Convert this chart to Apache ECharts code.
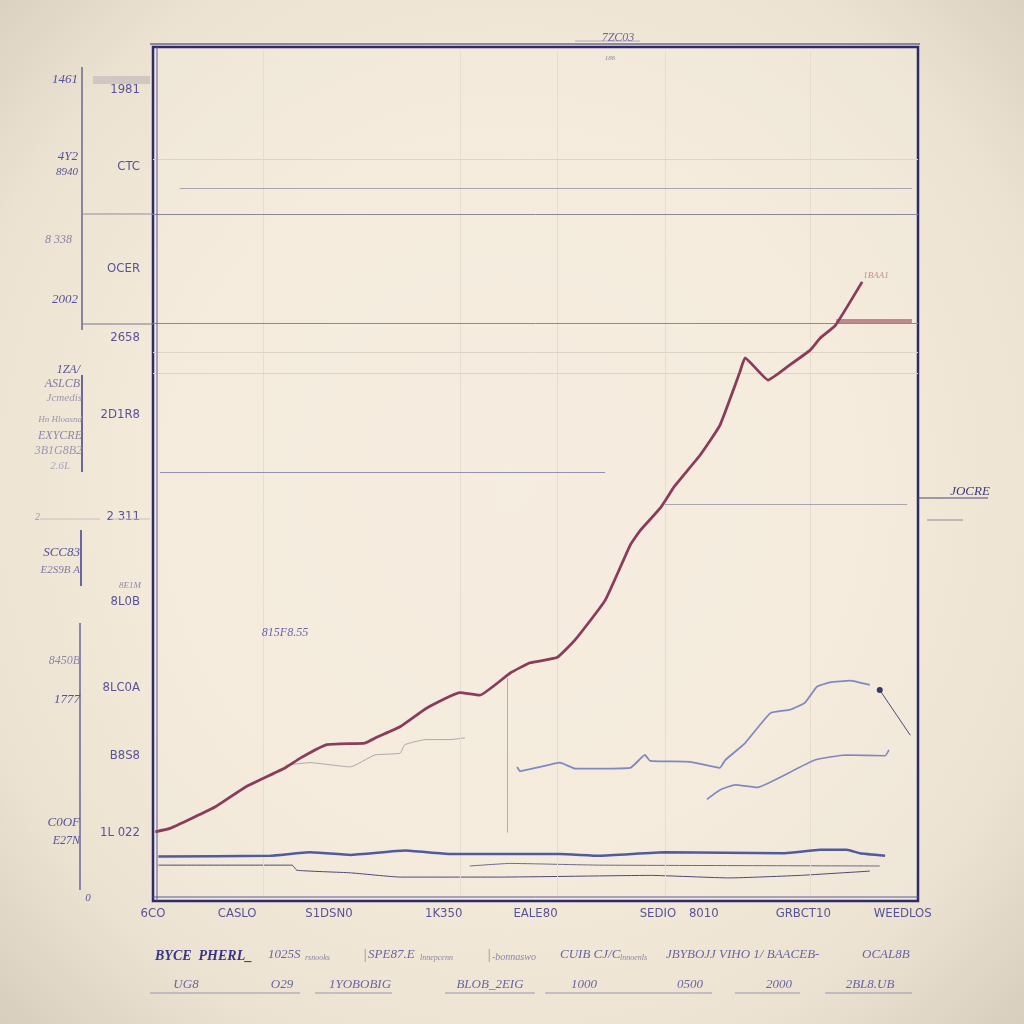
<!DOCTYPE html>
<html><head><meta charset="utf-8">
<style>
html,body{margin:0;padding:0;width:1024px;height:1024px;overflow:hidden;}
body{background: radial-gradient(ellipse at 50% 48%, #f5eddf 0%, #f3eada 50%, #ebe2d1 78%, #d8cebd 100%);}
#c{width:1024px;height:1024px;}
</style>
<script src="https://cdn.jsdelivr.net/npm/echarts@6/dist/echarts.min.js"></script>
</head><body><div id="c"></div><script>
// ---- data (x: 0-100, y: 0-100 value scale) ----
const xTickValues = [0, 11, 23, 38, 50, 66, 72, 85, 98];
const xTickLabels = ['6CO', 'CASLO', 'S1DSN0', '1K350', 'EALE80', 'SEDIO', '8010', 'GRBCT10', 'WEEDLOS'];
const yTickValues = [8, 17, 25, 35, 45, 57, 66, 74, 86, 95];
const yTickLabels = ['1L 022', 'B8S8', '8LC0A', '8L0B', '2 311', '2D1R8', '2658', 'OCER', 'CTC', '1981'];

const mainSeries = [[0.3,8.1],[2.2,8.5],[8.1,11.0],[12.0,13.3],[17.3,15.6],[19.2,16.7],[22.7,18.3],[27.7,18.5],[29.3,19.2],[32.3,20.4],[35.8,22.6],[40.1,24.4],[42.7,24.1],[46.7,26.7],[49.3,27.9],[52.8,28.5],[55.2,30.6],[59.1,35.2],[62.4,41.7],[63.7,43.4],[66.3,46.0],[68.2,48.6],[71.5,52.2],[74.1,55.7],[76.7,61.9],[77.4,63.6],[80.4,61.0],[83.3,62.8],[85.9,64.5],[87.2,65.9],[89.2,67.4],[92.7,72.5]];
const blueMid = [[47.6,15.7],[48.0,15.2],[50.6,15.7],[53.2,16.2],[55.2,15.5],[62.4,15.6],[64.3,17.1],[65.0,16.4],[70.2,16.3],[74.1,15.6],[74.8,16.5],[77.4,18.5],[80.7,22.0],[83.3,22.4],[85.2,23.2],[86.8,25.1],[88.5,25.6],[91.1,25.8],[93.7,25.3]];
const blueLow = [[72.4,11.9],[74.1,13.0],[76.1,13.6],[79.0,13.3],[82.0,14.5],[86.5,16.5],[90.5,17.1],[95.7,17.0],[96.2,17.7]];
const baseBlue = [[0.7,5.2],[15.3,5.3],[20.5,5.7],[25.8,5.4],[32.9,5.9],[38.8,5.5],[53.2,5.5],[58.4,5.3],[66.9,5.7],[82.6,5.6],[87.2,6.0],[90.7,6.0],[92.4,5.6],[95.7,5.3]];
const thinNavyA = [[0.7,4.2],[18.2,4.2],[18.8,3.6],[25.8,3.3],[32.3,2.8],[45.4,2.8],[65.0,3.0],[75.4,2.7],[84.6,3.0],[93.7,3.5]];
const thinNavyB = [[41.4,4.1],[46.7,4.4],[58.4,4.2],[95.0,4.1]];
const faintGray = [[17.3,15.9],[20.5,16.2],[25.8,15.7],[29.0,17.1],[32.3,17.3],[32.9,18.3],[35.6,18.9],[38.8,18.9],[40.8,19.1]];
const pointerLine = [[95.0,24.7],[99.0,19.4]];

// reference lines: [y, xStart, xEnd]
const refLinesDark = [[80.4,0,100],[67.6,0,100]];
const refLinesMid = [[83.5,3.5,99.2],[46.4,66.9,98.6]];
const refLinesBlue = [[50.2,0.9,59.1]];
const refLinesLight = [[86.8,0,100],[64.3,0,100],[61.8,0,100]];
const refBar = [[67.9,89.3,99.2]];
const vGridX = [14.4,40.1,52.8,66.9,85.9];
const vMarker = [[46.3,8.0,26.1]];

const NAVY = '#2d2b6b', LBL = '#57539a', FONT = 'Liberation Serif';
const AXFONT = '"Liberation Sans Narrow", "DejaVu Sans Condensed", sans-serif';

function hSeg(arr){ return arr.map(([y,a,b]) => [{coord:[a,y]},{coord:[b,y]}]); }
function lineSeries(data, color, width, z, opacity){
  return {type:'line', data, symbol:'none', smooth:0.12, z:z||3, silent:true,
    lineStyle:{color, width, opacity: opacity==null?1:opacity}};
}
const xMap = {}; xTickValues.forEach((v,i)=>xMap[v]=xTickLabels[i]);
const yMap = {}; yTickValues.forEach((v,i)=>yMap[v]=yTickLabels[i]);

// outer decorative texts: [text, x, y, size, color, align]
const outerTexts = [
 ['1461',78,80,13,LBL,'right'],['4Y2',78,157,13,LBL,'right'],['8940',78,172,11,LBL,'right'],
 ['8 338',72,240,12,'#8b86a8','right'],['2002',78,300,13,LBL,'right'],
 ['1ZA/',80,370,12,LBL,'right'],['ASLCB',80,384,12,'#7e7aa6','right'],['Jcmedis',82,398,11,'#9a96b0','right'],
 ['Hn Hloasnd',82,420,9,'#9a96b0','right'],['EXYCRE',82,436,12,'#8a86aa','right'],['3B1G8B2',82,451,12,'#9a96b0','right'],['2.6L',70,466,11,'#a8a4b8','right'],
 ['2',35,517,10,'#9a96b0','left'],['SCC83',80,553,13,LBL,'right'],['E2S9B A',80,570,11,'#7e7aa6','right'],
 ['8E1M',141,586,9,'#8e8aa8','right'],['8450B',80,661,12,'#8a86aa','right'],['1777',80,700,13,LBL,'right'],
 ['C0OF',80,823,13,LBL,'right'],['E27N',80,841,12,LBL,'right'],['0',88,898,11,LBL,'center'],
 ['7ZC03',618,38,12,'#6a66a0','center'],['186',610,58,7,'#8a86a0','center'],
 ['JOCRE',970,492,13,'#3e3a7a','center'],['1BAA1',876,276,9,'#c09090','center'],
 ['815F8.55',285,633,12,'#6a66a8','center']
];
// legend row 1 pieces
const legendRow1 = [
 ['BYCE  PHERL_',155,956,14,'#3a3488','bold'],['1025S',268,955,13,'#6a66a0','normal'],['rsnooks',305,958,8,'#8a86a8','normal'],
 ['|',363,955,14,'#8a86a8','normal'],['SPE87.E',368,955,13,'#6a66a0','normal'],['lnnepcenn',420,958,8,'#8a86a8','normal'],
 ['|',487,955,14,'#8a86a8','normal'],['-bonnaswo',492,957,10,'#8a86a8','normal'],['CUIB CJ/C',560,955,13,'#6a66a0','normal'],
 ['lnnoenls',620,958,8,'#8a86a8','normal'],['JBYBOJJ VIHO 1/ BAACEB-',666,955,13,'#6a66a0','normal'],['OCAL8B',862,955,13,'#6a66a0','normal']
];
// legend row 2: [text, x, lineStart, lineEnd]
const legendRow2 = [['UG8',186,150,200],['O29',282,200,300],['1YOBOBIG',360,315,392],['BLOB_2EIG',490,445,535],['1000',584,545,610],['0500',690,610,712],['2000',779,735,800],['2BL8.UB',870,825,912]];

const graphics = [];
outerTexts.forEach(([t,x,y,s,c,a])=>graphics.push({type:'text',x,y,style:{text:t,fill:c,font:`italic ${s}px "${FONT}"`,textAlign:a,textVerticalAlign:'middle'},z:10}));
legendRow1.forEach(([t,x,y,s,c,w])=>graphics.push({type:'text',x,y,style:{text:t,fill:c,font:`italic ${w} ${s}px "${FONT}"`,textAlign:'left',textVerticalAlign:'middle'},z:10}));
legendRow2.forEach(([t,x,a,b])=>{
  graphics.push({type:'text',x,y:985,style:{text:t,fill:'#6a66a0',font:`italic 13px "${FONT}"`,textAlign:'center',textVerticalAlign:'middle'},z:10});
  graphics.push({type:'line',shape:{x1:a,y1:993,x2:b,y2:993},style:{stroke:'#9a96b0',lineWidth:1},z:9});
});
// structural lines outside the plot
const outerLines = [
 [82,67,82,330,'#8a86a0',2],[82,375,82,472,'#6a66a0',2],[81,530,81,586,'#6a66a0',2],[80,623,80,890,'#8a86a8',2],
 [82,214,153,214,'#8e8ca0',1],[82,324,153,324,'#7a7890',1],[93,80,150,80,'#d0c8c0',8],
 [157,47,157,901,'#5a58a0',1],[153,897,918,897,'#5a58a0',1],[150,44,920,44,'#2d2b6b',1],
 [918,498,988,498,'#4a4878',1.2],[927,520,963,520,'#8a86a0',1],[575,41,640,41,'#b0acb8',1],
 [110,519,150,519,'#c0bcc8',1],[40,519,100,519,'#c8c0c0',1]
];
outerLines.forEach(([x1,y1,x2,y2,c,w])=>graphics.push({type:'line',shape:{x1,y1,x2,y2},style:{stroke:c,lineWidth:w},z:8}));

const chart = echarts.init(document.getElementById('c'), null, {renderer:'canvas'});
chart.setOption({
  backgroundColor:'transparent',
  animation:false,
  grid:{left:153, top:47, width:765, height:854, show:true, borderColor:NAVY, borderWidth:2.5, backgroundColor:'rgba(246,239,226,0.35)'},
  xAxis:{type:'value', min:0, max:100, interval:1,
    axisLine:{show:false}, axisTick:{show:false}, splitLine:{show:false},
    axisLabel:{margin:6, color:LBL, fontFamily:AXFONT, fontSize:13, formatter:v=>xMap[v]||''}},
  yAxis:{type:'value', min:0, max:100, interval:1,
    axisLine:{show:false}, axisTick:{show:false}, splitLine:{show:false},
    axisLabel:{margin:13, color:LBL, fontFamily:AXFONT, fontSize:13, formatter:v=>yMap[v]||''}},
  series:[
    {type:'line', data:[], silent:true, markLine:{silent:true, symbol:'none', label:{show:false},
      lineStyle:{color:'#e6dccf', width:1, type:'solid'},
      data: vGridX.map(x=>[{coord:[x,0.5]},{coord:[x,99.5]}])}},
    {type:'line', data:[], silent:true, markLine:{silent:true, symbol:'none', label:{show:false},
      lineStyle:{color:'#ddd3c6', width:1, type:'solid'}, data:hSeg(refLinesLight)}},
    {type:'line', data:[], silent:true, markLine:{silent:true, symbol:'none', label:{show:false},
      lineStyle:{color:'#8a889c', width:1, type:'solid'}, data:hSeg(refLinesDark)}},
    {type:'line', data:[], silent:true, markLine:{silent:true, symbol:'none', label:{show:false},
      lineStyle:{color:'#a8a4b0', width:1, type:'solid'}, data:hSeg(refLinesMid)}},
    {type:'line', data:[], silent:true, markLine:{silent:true, symbol:'none', label:{show:false},
      lineStyle:{color:'#8e92b8', width:1.2, type:'solid'}, data:hSeg(refLinesBlue)}},
    {type:'line', data:[], silent:true, markLine:{silent:true, symbol:'none', label:{show:false},
      lineStyle:{color:'#b4787e', width:4, type:'solid', opacity:0.85}, data:hSeg(refBar)}},
    {type:'line', data:[], silent:true, markLine:{silent:true, symbol:'none', label:{show:false},
      lineStyle:{color:'#b0acb4', width:1, type:'solid'},
      data: vMarker.map(([x,a,b])=>[{coord:[x,a]},{coord:[x,b]}])}},
    lineSeries(faintGray,'#a49ea4',1,3,0.9),
    lineSeries(thinNavyA,'#4a4878',1,4),
    lineSeries(thinNavyB,'#6a6890',1,4),
    lineSeries(baseBlue,'#4f5aa0',2.5,5),
    lineSeries(blueLow,'#8088c2',1.6,5),
    lineSeries(blueMid,'#7f88c2',1.8,5),
    {type:'line', data:pointerLine, symbol:'circle', symbolSize:(v,p)=>p.dataIndex===0?6:0, showAllSymbol:true, silent:true, z:5,
      lineStyle:{color:'#4a4878', width:1}, itemStyle:{color:'#3a3868', opacity:1}},
    lineSeries(mainSeries,'#8b3c5c',2.8,6)
  ],
  graphic: graphics
});
</script></body></html>
